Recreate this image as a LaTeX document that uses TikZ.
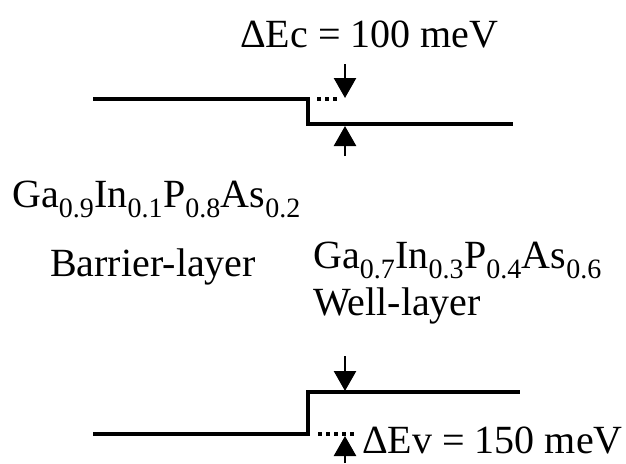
\documentclass[tikz,border=0pt]{standalone}
\usepackage{fontspec}
\setmainfont{Liberation Serif}
\usetikzlibrary{arrows.meta}

\newcommand{\sub}[1]{\textsubscript{#1}}

\begin{document}
\begin{tikzpicture}[
    x=1pt, y=-1pt,
    level/.style={line width=3.4pt, line join=miter},
    gap/.style={line width=3.4pt, dash pattern=on 4pt off 4pt},
    marker/.style={-{Triangle[length=20pt, width=22pt]}, line width=2.6pt},
    lbl/.style={font=\fontsize{40}{46}\selectfont, inner sep=0pt, anchor=base west}
]
\useasboundingbox (0,0) rectangle (626,463);
% conduction band edge
\coordinate (cb1) at (93,99);
\coordinate (cb2) at (308,99);
\coordinate (cb3) at (308,124);
\coordinate (cb4) at (513,124);
\coordinate (cbdot1) at (317,99);
\coordinate (cbdot2) at (338,99);
\coordinate (cbin) at (345,64);
\coordinate (cbhi) at (345,98);
\coordinate (cblo) at (345,126);
\coordinate (cbout) at (345,156);
\draw[level] (cb1) -- (cb2) -- (cb3) -- (cb4);
\draw[gap] (cbdot1) -- (cbdot2);
\draw[marker] (cbin) -- (cbhi);
\draw[marker] (cbout) -- (cblo);
% valence band edge
\coordinate (vb1) at (93,434);
\coordinate (vb2) at (308,434);
\coordinate (vb3) at (308,392);
\coordinate (vb4) at (520,392);
\coordinate (vbdot1) at (318,434);
\coordinate (vbdot2) at (357,434);
\coordinate (vbin) at (345,356);
\coordinate (vbhi) at (345,391);
\coordinate (vblo) at (345,436);
\coordinate (vbout) at (345,463);
\draw[level] (vb1) -- (vb2) -- (vb3) -- (vb4);
\draw[gap] (vbdot1) -- (vbdot2);
\draw[marker] (vbin) -- (vbhi);
\draw[marker] (vbout) -- (vblo);
% labels
\node[lbl] (dEc) at (240,47) {ΔEc = 100 meV};
\node[lbl] (barcomp) at (12,207) {Ga\sub{0.9}In\sub{0.1}P\sub{0.8}As\sub{0.2}};
\node[lbl] (barname) at (50,276) {Barrier-layer};
\node[lbl] (wellcomp) at (313,268) {Ga\sub{0.7}In\sub{0.3}P\sub{0.4}As\sub{0.6}};
\node[lbl] (wellname) at (313,315) {Well-layer};
\node[lbl] (dEv) at (362,453) {ΔEv = 150 meV};
\end{tikzpicture}
\end{document}
